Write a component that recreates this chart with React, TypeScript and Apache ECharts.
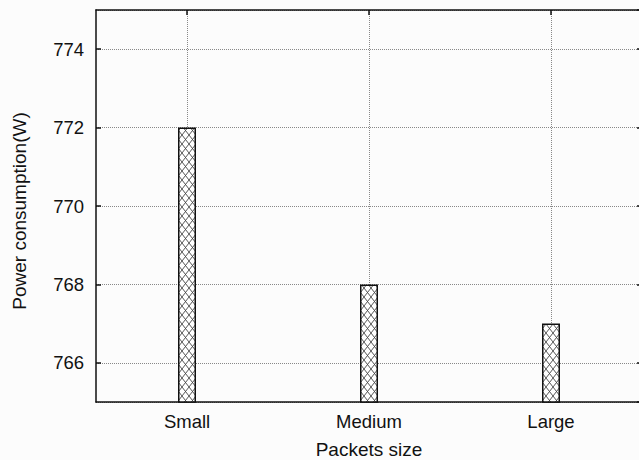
import React, { useEffect, useRef } from "react";
import * as echarts from "echarts";

const categories = ["Small", "Medium", "Large"];
const powerValues = [772, 768, 767];
const yMin = 765;
const yMax = 775;

// padded category axis so labels sit on grid lines
const paddedCats: string[] = [""];
const paddedVals: (number | string)[] = ["-"];
categories.forEach((c, i) => {
  paddedCats.push(c, "");
  paddedVals.push(powerValues[i], "-");
});

const hatchSvg =
  "data:image/svg+xml;charset=utf-8," +
  encodeURIComponent(
    "<svg xmlns='http://www.w3.org/2000/svg' width='7' height='9'><rect width='7' height='9' fill='white'/><path d='M0 0L7 9M7 0L0 9' stroke='#444' stroke-width='0.9'/></svg>"
  );

export default function App() {
  const ref = useRef<HTMLDivElement>(null);
  useEffect(() => {
    if (!ref.current) return;
    const chart = echarts.init(ref.current, null, { renderer: "svg" });
    const font = "Liberation Sans, Arial, sans-serif";
    const odd = (i: number) => i % 2 === 1;
    chart.setOption({
      animation: false,
      backgroundColor: "#fcfcfc",
      grid: { left: 96, top: 10, width: 546, height: 392, outerBoundsMode: "none", containLabel: false },
      xAxis: [
        {
          type: "category",
          data: paddedCats,
          boundaryGap: false,
          name: "Packets size",
          nameLocation: "middle",
          nameGap: 38,
          nameTextStyle: { fontFamily: font, fontSize: 19, color: "#111" },
          axisLine: { lineStyle: { color: "#111", width: 1.5 } },
          axisTick: { show: false },
          axisLabel: {
            interval: (i: number) => odd(i),
            fontFamily: font,
            fontSize: 18.5,
            color: "#111",
            margin: 10,
          },
          splitLine: {
            show: true,
            interval: (i: number) => odd(i),
            lineStyle: { type: "dotted", color: "#888", width: 1 },
          },
        },
        {
          type: "category",
          data: paddedCats,
          boundaryGap: false,
          position: "top",
          axisLine: { lineStyle: { color: "#111", width: 1.5 } },
          axisTick: {
            show: true,
            inside: true,
            length: 5,
            interval: (i: number) => odd(i),
            lineStyle: { color: "#111", width: 1.5 },
          },
          axisLabel: { show: false },
          splitLine: { show: false },
        },
      ],
      yAxis: [
        {
          type: "value",
          min: yMin,
          max: yMax,
          splitNumber: 5,
          name: "Power consumption(W)",
          nameLocation: "middle",
          nameGap: 67,
          nameTextStyle: { fontFamily: font, fontSize: 19, color: "#111", padding: [0, 10, 0, 0] },
          axisLine: { show: true, lineStyle: { color: "#111", width: 1.5 } },
          axisTick: { show: true, inside: true, length: 5, lineStyle: { color: "#111", width: 1.5 } },
          axisLabel: {
            showMinLabel: false,
            showMaxLabel: false,
            fontFamily: font,
            fontSize: 18.5,
            color: "#111",
            margin: 12,
          },
          splitLine: { show: true, lineStyle: { type: "dotted", color: "#888", width: 1 } },
        },
        {
          type: "value",
          min: yMin,
          max: yMax,
          splitNumber: 5,
          position: "right",
          axisLine: { show: true, lineStyle: { color: "#111", width: 1.5 } },
          axisTick: { show: true, inside: true, length: 5, lineStyle: { color: "#111", width: 1.5 } },
          axisLabel: { show: false },
          splitLine: { show: false },
        },
      ],
      series: [
        {
          type: "bar",
          data: paddedVals,
          barWidth: 18,
          itemStyle: {
            color: { image: hatchSvg, repeat: "repeat", imageWidth: 7, imageHeight: 9 },
            borderColor: "#111",
            borderWidth: 1.5,
          },
        },
      ],
    });
    return () => chart.dispose();
  }, []);
  return <div ref={ref} style={{ width: 639, height: 460, position: "absolute", left: 0, top: 0 }} />;
}
